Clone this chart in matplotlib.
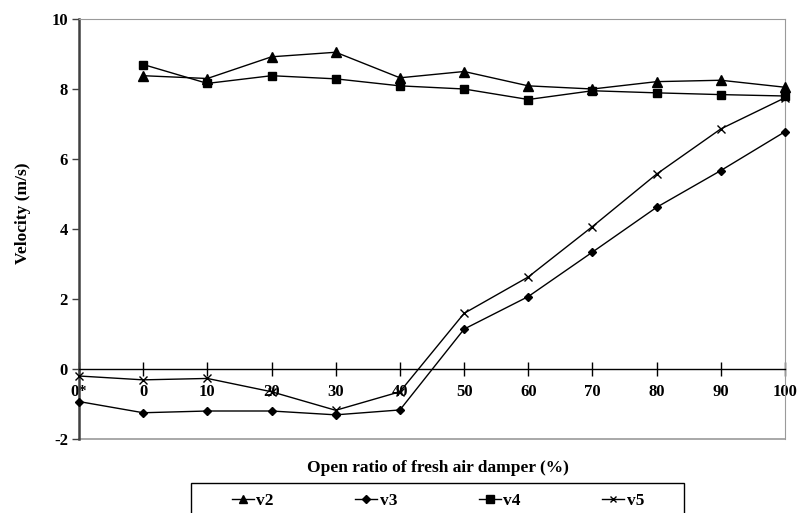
import matplotlib
matplotlib.use("Agg")
import matplotlib.pyplot as plt
from matplotlib.patches import Rectangle
import numpy as np

categories = ["0*", "0", "10", "20", "30", "40", "50", "60", "70", "80", "90", "100"]
v2 = [np.nan, 8.38, 8.30, 8.92, 9.05, 8.32, 8.50, 8.09, 8.00, 8.21, 8.25, 8.05]
v3 = [-0.93, -1.25, -1.20, -1.20, -1.31, -1.17, 1.14, 2.07, 3.34, 4.62, 5.67, 6.78]
v4 = [np.nan, 8.70, 8.16, 8.38, 8.29, 8.09, 8.00, 7.70, 7.95, 7.89, 7.84, 7.80]
v5 = [-0.20, -0.31, -0.27, -0.65, -1.18, -0.65, 1.59, 2.63, 4.07, 5.57, 6.86, 7.75]
yticks = [-2, 0, 2, 4, 6, 8, 10]

plt.rcParams['font.family'] = ['Liberation Serif', 'DejaVu Serif']
plt.rcParams['font.weight'] = 'bold'

fig = plt.figure(figsize=(7.98, 5.13), dpi=100)
ax = fig.add_axes([79/798, 1-439/513, (785-79)/798, (439-19)/513])

x = np.arange(len(categories))
l2, = ax.plot(x, v2, color='black', lw=1, marker='^', ms=6.5, label='v2', clip_on=False, zorder=5)
l3, = ax.plot(x, v3, color='black', lw=1, marker='D', ms=4.3, label='v3', clip_on=False, zorder=5)
l4, = ax.plot(x, v4, color='black', lw=1, marker='s', ms=6.3, label='v4', clip_on=False, zorder=5)
l5, = ax.plot(x, v5, color='black', lw=1, marker='x', ms=5.5, mew=1.0, label='v5', clip_on=False, zorder=5)

ax.set_xlim(0, len(categories) - 1)
ax.set_ylim(-2, 10)
ax.set_yticks(yticks)
ax.set_yticklabels([str(t) for t in yticks], fontsize=12, fontweight='bold')
ax.tick_params(axis='y', direction='out', length=5, width=1, colors='#404040', labelcolor='black', pad=3)

# x-axis at y = 0
ax.spines['bottom'].set_position(('data', 0))
ax.spines['bottom'].set_color('black')
ax.spines['bottom'].set_linewidth(1)
ax.set_xticks(x)
ax.set_xticklabels(categories, fontsize=12, fontweight='bold')
ax.tick_params(axis='x', direction='inout', length=10, width=1, colors='black', pad=6)

ax.spines['left'].set_color('#404040')
ax.spines['left'].set_linewidth(1.8)
ax.spines['top'].set_color('#9a9a9a')
ax.spines['right'].set_color('#9a9a9a')
ax.axhline(-2, color='#9a9a9a', lw=1.2, clip_on=False, zorder=1)

fig.text(23/798, 1-213/513, 'Velocity (m/s)', rotation=90, ha='center', va='center',
         fontsize=12.5, fontweight='bold')
fig.text(438/798, 1-468/513, 'Open ratio of fresh air damper (%)', ha='center', va='center',
         fontsize=12.5, fontweight='bold')

# legend frame drawn manually (wide horizontal padding)
fig.patches.append(Rectangle((191/798, -0.05), (684-191)/798, 1-483/513+0.05,
                             transform=fig.transFigure, fill=False, edgecolor='black',
                             lw=1, zorder=1))
leg = fig.legend(handles=[l2, l3, l4, l5], ncol=4, loc='center left',
                 bbox_to_anchor=(232/798, 1-501/513), frameon=False,
                 prop={'weight': 'bold', 'size': 12.5},
                 handlelength=1.25, handletextpad=0.15, columnspacing=4.7,
                 borderpad=0, borderaxespad=0, markerscale=0.85)

fig.savefig('out.png', dpi=100)
